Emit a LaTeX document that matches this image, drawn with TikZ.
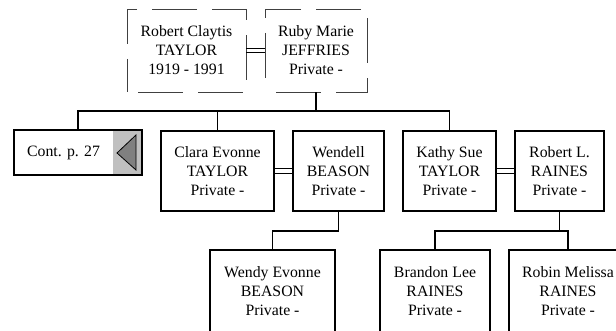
\documentclass[tikz,border=0pt]{standalone}
\usepackage{fontspec}
\setmainfont{Liberation Serif}
\definecolor{boxgray}{HTML}{C0C0C0}
\definecolor{trigray}{HTML}{808080}
\definecolor{dashgray}{HTML}{404040}
\begin{document}
\begin{tikzpicture}[x=1pt,y=-1pt,
  person/.style={draw, line width=1.4pt, inner sep=0pt, align=center,
    font=\fontsize{15.8}{19}\selectfont, minimum height=80pt},
  ancestor/.style={person, draw=dashgray, line width=0.9pt, minimum height=83pt,
    dash pattern=on 45pt off 15pt, dash phase=-11pt},
  conn/.style={line width=1.8pt},
  marr/.style={line width=1.1pt}]
\useasboundingbox (0,0) rectangle (616,331);
\clip (0,0) rectangle (616,331);
% generation 1
\node[ancestor, minimum width=119pt] (rc) at (186.5,50.5) {Robert Claytis\\TAYLOR\\1919 - 1991};
\node[ancestor, minimum width=102pt] (rm) at (316,50.5) {Ruby Marie\\JEFFRIES\\Private -};
\draw[marr] ([yshift=2.3pt]rc.east) -- ([yshift=2.3pt]rm.west);
\draw[marr] ([yshift=-2.3pt]rc.east) -- ([yshift=-2.3pt]rm.west);
% continuation box
\fill[boxgray] (113,130) rectangle (142,175);
\node[draw, line width=1.8pt, minimum width=128pt, minimum height=45pt, inner sep=0pt] (cont) at (78,152.5) {};
\node[font=\fontsize{15.8}{19}\selectfont, inner sep=0pt] (conttext) at (63.5,152.5) {Cont. p. 27};
\draw[fill=trigray, line width=0.8pt] (117,153) -- (136,135) -- (136,170) -- cycle;
% generation 2
\node[person, minimum width=113pt] (clara) at (217.5,171) {Clara Evonne\\TAYLOR\\Private -};
\node[person, minimum width=91pt] (wendell) at (338.5,171) {Wendell\\BEASON\\Private -};
\node[person, minimum width=93pt] (kathy) at (449.5,171) {Kathy Sue\\TAYLOR\\Private -};
\node[person, minimum width=89pt] (robl) at (559.5,171) {Robert L.\\RAINES\\Private -};
\draw[marr] ([yshift=2.2pt]clara.east) -- ([yshift=2.2pt]wendell.west);
\draw[marr] ([yshift=-2.2pt]clara.east) -- ([yshift=-2.2pt]wendell.west);
\draw[marr] ([yshift=2.2pt]kathy.east) -- ([yshift=2.2pt]robl.west);
\draw[marr] ([yshift=-2.2pt]kathy.east) -- ([yshift=-2.2pt]robl.west);
% generation 3
\node[person, minimum width=125pt, minimum height=82pt] (wendy) at (272.5,291) {Wendy Evonne\\BEASON\\Private -};
\node[person, minimum width=110pt, minimum height=82pt] (brandon) at (435,291) {Brandon Lee\\RAINES\\Private -};
\node[person, minimum width=118pt, minimum height=82pt] (robin) at (568,291) {Robin Melissa\\RAINES\\Private -};
% connectors
\coordinate (bus1) at (317,111);
\coordinate (bus2) at (0,231);
\draw[conn] (rm.south) -- (rm.south |- bus1);
\draw[conn] (cont.north) -- (cont.north |- bus1) -- (kathy.north |- bus1) -- (kathy.north);
\draw[conn] (clara.north) -- (clara.north |- bus1);
\draw[conn] (wendell.south) -- (wendell.south |- bus2) -- (wendy.north |- bus2) -- (wendy.north);
\draw[conn] (robl.south) -- (robl.south |- bus2);
\draw[conn] (brandon.north) -- (brandon.north |- bus2) -- (robin.north |- bus2) -- (robin.north);
\end{tikzpicture}
\end{document}
